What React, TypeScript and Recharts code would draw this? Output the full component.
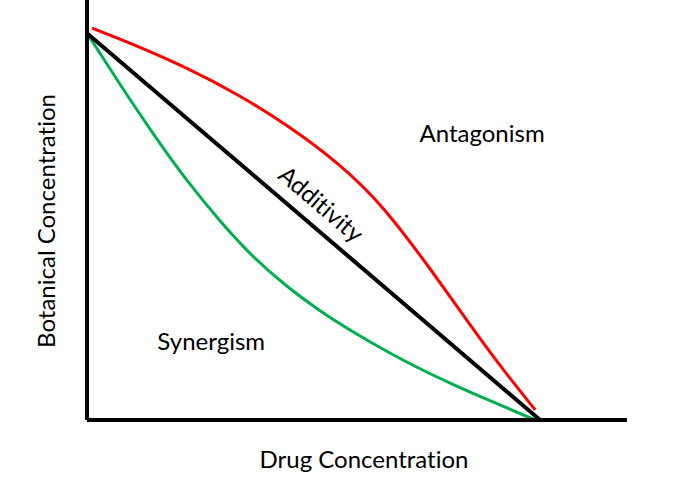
import React from "react";
import {
  LineChart,
  Line,
  XAxis,
  YAxis,
  Label,
  ReferenceDot,
} from "recharts";

// Drug concentration (x) and botanical concentration (y) for each isobole
const antagonismX = [1.1, 11.1, 22.2, 33.3, 44.4, 55.6, 66.2, 76.9, 84.4, 91.8, 99.6];
const antagonismY = [93.3, 89.0, 83.7, 77.5, 70.1, 61.1, 49.9, 35.0, 23.8, 13.0, 2.4];

const synergismX = [0, 7.3, 14.9, 22.2, 29.6, 36.9, 44.4, 51.8, 59.1, 66.7, 74.0, 81.3, 88.9, 99.6];
const synergismY = [92.1, 80.0, 67.9, 57.1, 47.4, 39.0, 31.9, 26.0, 21.0, 16.3, 12.2, 8.5, 4.9, 0];

const additivityX = [0, 100.7];
const additivityY = [92.1, 0];

const xTitle = "Drug Concentration";
const yTitle = "Botanical Concentration";

const toPoints = (xs: number[], ys: number[]) =>
  xs.map((x, i) => ({ x, y: ys[i] }));

const antagonism = toPoints(antagonismX, antagonismY);
const synergism = toPoints(synergismX, synergismY);
const additivity = toPoints(additivityX, additivityY);

const font = "Lato, 'Open Sans', sans-serif";

export default function App() {
  return (
    <div
      style={{
        position: "absolute",
        left: 0,
        top: 0,
        width: 693,
        height: 493,
        background: "#fff",
        fontFamily: font,
        fontVariantLigatures: "none",
      }}
    >
      <LineChart width={693} height={493} margin={{ top: 0, right: 66, bottom: 0, left: 0 }}>
        <XAxis
          type="number"
          dataKey="x"
          domain={[0, 120]}
          tick={false}
          tickLine={false}
          axisLine={{ stroke: "#000", strokeWidth: 4 }}
          height={73}
        >
          <Label value={xTitle} position="center" dx={7} dy={3} fill="#000" fontSize={24} />
        </XAxis>
        <YAxis
          type="number"
          dataKey="y"
          domain={[0, 100]}
          tick={false}
          tickLine={false}
          axisLine={{ stroke: "#000", strokeWidth: 4 }}
          width={87}
        >
          <Label value={yTitle} position="center" angle={-90} dx={3} dy={11} fill="#000" fontSize={24} />
        </YAxis>
        <Line
          data={antagonism}
          dataKey="y"
          type="natural"
          stroke="#FF0000"
          strokeWidth={3}
          dot={false}
          isAnimationActive={false}
        />
        <Line
          data={synergism}
          dataKey="y"
          type="natural"
          stroke="#00B050"
          strokeWidth={3}
          dot={false}
          isAnimationActive={false}
        />
        <Line
          data={additivity}
          dataKey="y"
          type="linear"
          stroke="#000"
          strokeWidth={4}
          dot={false}
          isAnimationActive={false}
        />
        <ReferenceDot x={87.8} y={68.3} r={0} stroke="none" ifOverflow="visible">
          <Label value="Antagonism" position="center" fill="#000" fontSize={24} />
        </ReferenceDot>
        <ReferenceDot x={27.6} y={18.8} r={0} stroke="none" ifOverflow="visible">
          <Label value="Synergism" position="center" fill="#000" fontSize={24} />
        </ReferenceDot>
        <ReferenceDot x={52} y={51.4} r={0} stroke="none" ifOverflow="visible">
          <Label value="Additivity" position="center" angle={40.5} fill="#000" fontSize={24} />
        </ReferenceDot>
      </LineChart>
    </div>
  );
}
